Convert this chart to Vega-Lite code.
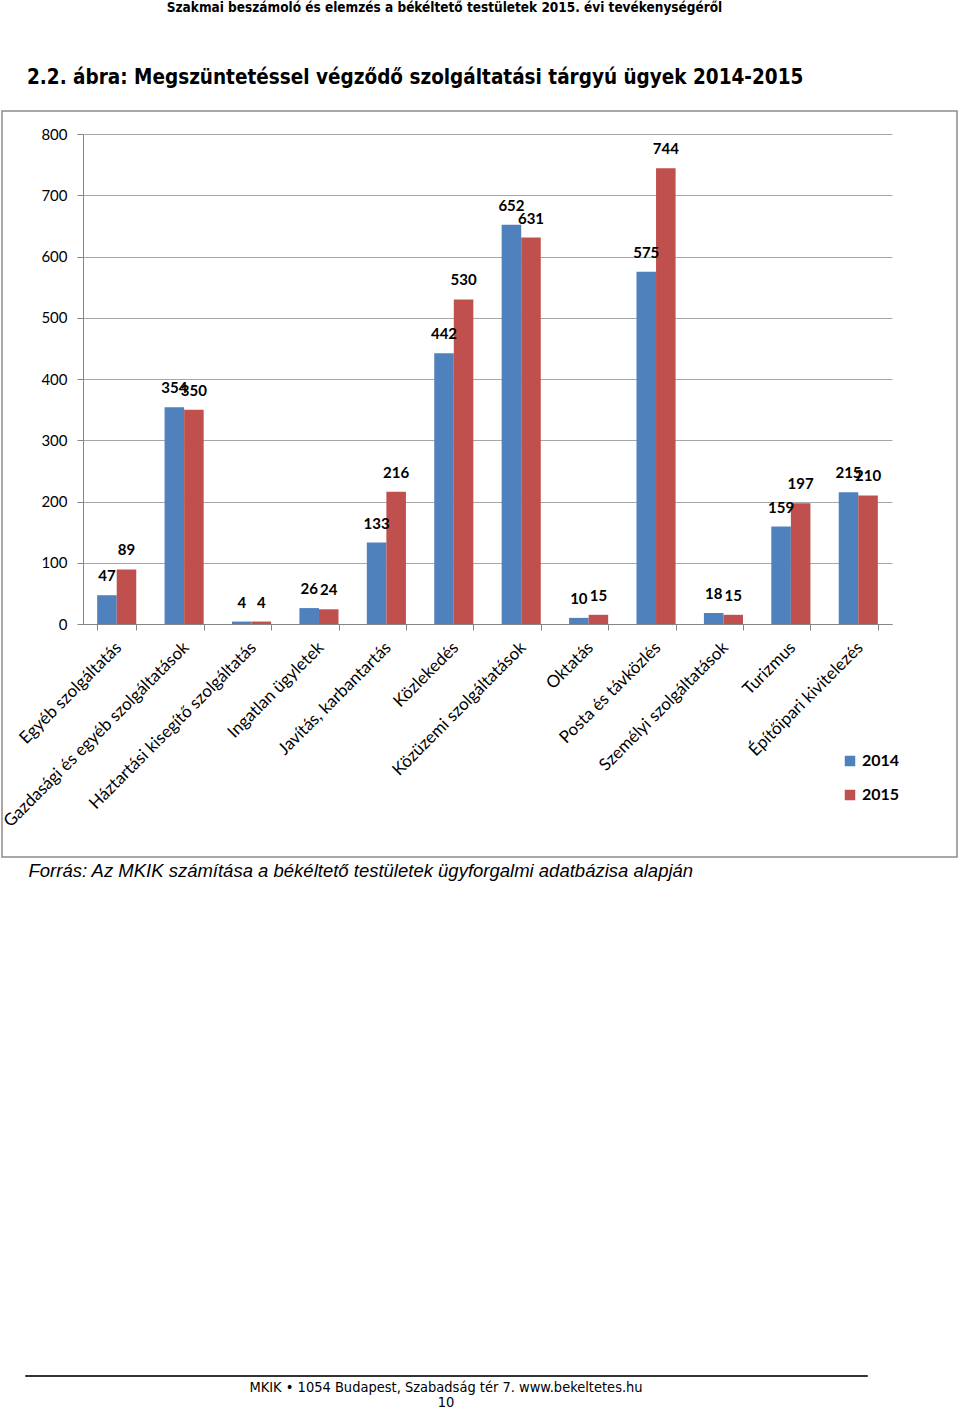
{
  "$schema": "https://vega.github.io/schema/vega-lite/v6.json",
  "background": "white",
  "autosize": {"type": "none"},
  "padding": {"left": 2, "top": 111, "right": 958, "bottom": 1299},
  "title": {
    "text": "Szakmai beszámoló és elemzés a békéltető testületek 2015. évi tevékenységéről",
    "anchor": "middle",
    "dx": -34,
    "offset": 52,
    "font": "DejaVu Sans Condensed, sans-serif",
    "fontSize": 13.5,
    "fontWeight": "bold",
    "color": "#000"
  },
  "bounds": "flush",
  "spacing": 518,
  "vconcat": [
    {
      "width": 955,
      "height": 746,
      "view": {"stroke": "#8c8c8c", "strokeWidth": 1.5},
      "title": {
        "text": "2.2. ábra: Megszüntetéssel végződő szolgáltatási tárgyú ügyek 2014-2015",
        "anchor": "start",
        "frame": "group",
        "dx": 25,
        "offset": 23,
        "font": "DejaVu Sans Condensed, sans-serif",
        "fontSize": 20.5,
        "fontWeight": "bold",
        "color": "#000"
      },
      "data": {
        "values": [
          {"category": "Egyéb szolgáltatás", "year": "2014", "value": 47},
          {"category": "Egyéb szolgáltatás", "year": "2015", "value": 89},
          {"category": "Gazdasági és egyéb szolgáltatások", "year": "2014", "value": 354},
          {"category": "Gazdasági és egyéb szolgáltatások", "year": "2015", "value": 350},
          {"category": "Háztartási kisegítő szolgáltatás", "year": "2014", "value": 4},
          {"category": "Háztartási kisegítő szolgáltatás", "year": "2015", "value": 4},
          {"category": "Ingatlan ügyletek", "year": "2014", "value": 26},
          {"category": "Ingatlan ügyletek", "year": "2015", "value": 24},
          {"category": "Javítás, karbantartás", "year": "2014", "value": 133},
          {"category": "Javítás, karbantartás", "year": "2015", "value": 216},
          {"category": "Közlekedés", "year": "2014", "value": 442},
          {"category": "Közlekedés", "year": "2015", "value": 530},
          {"category": "Közüzemi szolgáltatások", "year": "2014", "value": 652},
          {"category": "Közüzemi szolgáltatások", "year": "2015", "value": 631},
          {"category": "Oktatás", "year": "2014", "value": 10},
          {"category": "Oktatás", "year": "2015", "value": 15},
          {"category": "Posta és távközlés", "year": "2014", "value": 575},
          {"category": "Posta és távközlés", "year": "2015", "value": 744},
          {"category": "Személyi szolgáltatások", "year": "2014", "value": 18},
          {"category": "Személyi szolgáltatások", "year": "2015", "value": 15},
          {"category": "Turizmus", "year": "2014", "value": 159},
          {"category": "Turizmus", "year": "2015", "value": 197},
          {"category": "Építőipari kivitelezés", "year": "2014", "value": 215},
          {"category": "Építőipari kivitelezés", "year": "2015", "value": 210}
        ]
      },
      "encoding": {
        "x": {
          "field": "category",
          "type": "nominal",
          "sort": null,
          "scale": {"range": [81, 890], "paddingInner": 0.42, "paddingOuter": 0.21},
          "axis": {
            "orient": "bottom",
            "offset": -233,
            "title": "Forrás: Az MKIK számítása a békéltető testületek ügyforgalmi adatbázisa alapján",
            "titleX": 26,
            "titleY": 246,
            "titleAlign": "left",
            "titleBaseline": "middle",
            "titleAnchor": "start",
            "titleFont": "Liberation Sans, Arial, sans-serif",
            "titleFontSize": 18.5,
            "titleFontStyle": "italic",
            "titleFontWeight": "normal",
            "titleColor": "#000",
            "labelAngle": -45,
            "labelAlign": "right",
            "labelBaseline": "top",
            "labelFont": "Lato",
            "labelFontSize": 17,
            "labelColor": "#000",
            "labelPadding": 9,
            "labelOffset": -4,
            "labelLimit": 400,
            "tickBand": "extent",
            "tickSize": 6,
            "tickColor": "#868686",
            "domainColor": "#868686",
            "grid": false
          }
        },
        "xOffset": {"field": "year", "type": "nominal", "scale": {"paddingInner": 0, "paddingOuter": 0}},
        "y": {
          "field": "value",
          "type": "quantitative",
          "scale": {"domain": [0, 800], "range": [513, 23], "nice": false},
          "axis": {
            "offset": -81,
            "title": null,
            "values": [0, 100, 200, 300, 400, 500, 600, 700, 800],
            "grid": true,
            "gridColor": "#a6a6a6",
            "domainColor": "#868686",
            "tickColor": "#868686",
            "tickSize": 6,
            "labelFont": "Lato",
            "labelFontSize": 15,
            "labelColor": "#000",
            "labelPadding": 10
          }
        }
      },
      "layer": [
        {
          "mark": {"type": "bar"},
          "encoding": {
            "color": {
              "field": "year",
              "type": "nominal",
              "scale": {"domain": ["2014", "2015"], "range": ["#4F81BD", "#C0504D"]},
              "legend": {
                "orient": "none",
                "legendX": 840,
                "legendY": 642,
                "title": null,
                "symbolType": "square",
                "symbolSize": 110,
                "symbolStrokeWidth": 0,
                "labelFont": "Lato",
                "labelFontSize": 16,
                "labelFontWeight": "bold",
                "labelColor": "#000",
                "rowPadding": 18
              }
            }
          }
        },
        {
          "mark": {"type": "text", "dy": -19, "baseline": "middle", "font": "Lato", "fontSize": 15, "fontWeight": "bold", "color": "#000"},
          "encoding": {"text": {"field": "value", "type": "quantitative"}}
        }
      ]
    },
    {
      "hconcat": [
        {"width": 23, "height": 1, "view": {"stroke": null}, "data": {"values": []}, "mark": "point"},
        {
          "width": 842,
          "height": 1,
          "view": {"stroke": "#333"},
          "data": {"values": []},
          "mark": "point",
          "title": {
            "text": "MKIK • 1054 Budapest, Szabadság tér 7. www.bekeltetes.hu",
            "subtitle": "10",
            "orient": "bottom",
            "anchor": "middle",
            "offset": 5,
            "font": "DejaVu Sans Condensed, sans-serif",
            "fontSize": 14.5,
            "fontWeight": "normal",
            "color": "#000",
            "subtitleFont": "DejaVu Sans Condensed, sans-serif",
            "subtitleFontSize": 14.5,
            "subtitleColor": "#000",
            "subtitlePadding": 0
          }
        }
      ],
      "spacing": 0,
      "bounds": "flush"
    }
  ]
}
